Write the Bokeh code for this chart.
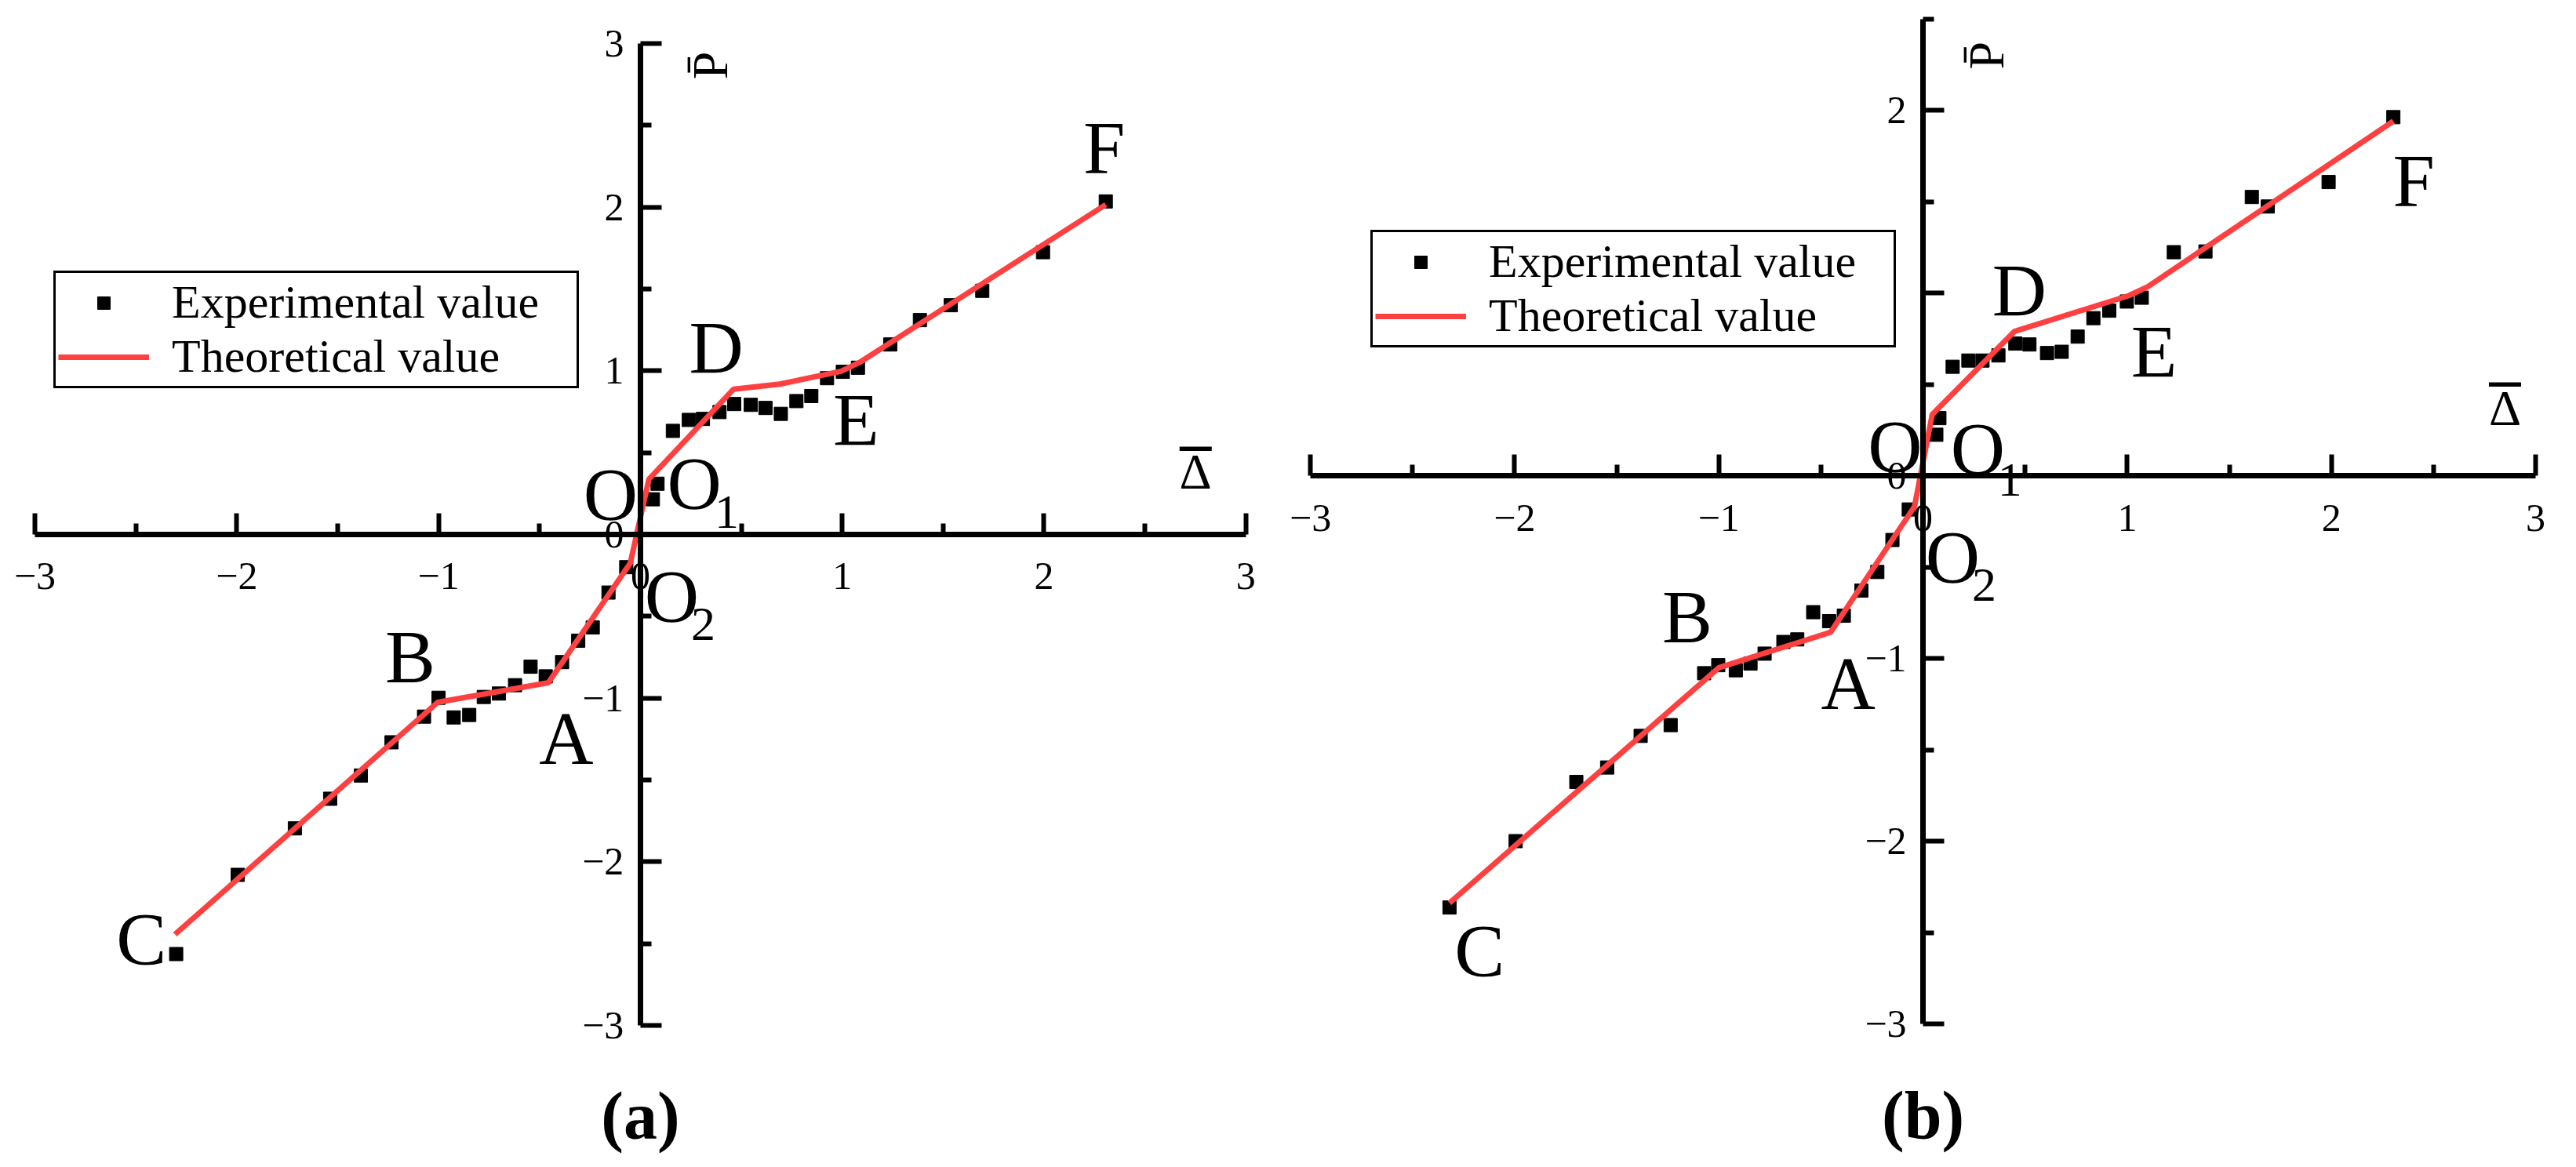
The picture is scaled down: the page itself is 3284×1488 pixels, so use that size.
import numpy as np
from bokeh.plotting import figure
from bokeh.models import LinearAxis, FixedTicker, Range1d, Legend, LegendItem
from bokeh.layouts import row
from bokeh.embed import file_html
from bokeh.resources import INLINE
from bokeh.core.properties import value

# ---------------- data ----------------
# panel (a)
a_exp_x = [-2.30, -1.995, -1.712, -1.537, -1.385, -1.233, -1.072, -1.0, -0.925, -0.848,
           -0.776, -0.701, -0.621, -0.544, -0.469, -0.388, -0.308, -0.236, -0.158, -0.07,
           0.062, 0.085, 0.161, 0.24, 0.31, 0.392, 0.465, 0.547, 0.62, 0.696,
           0.773, 0.847, 0.925, 1.003, 1.078, 1.238, 1.385, 1.538, 1.694, 1.995, 2.306]
a_exp_y = [-2.564, -2.08, -1.796, -1.615, -1.473, -1.27, -1.113, -0.998, -1.118, -1.103,
           -0.993, -0.972, -0.921, -0.808, -0.867, -0.78, -0.649, -0.568, -0.355, -0.2,
           0.215, 0.31, 0.633, 0.70, 0.706, 0.748, 0.797, 0.792, 0.773, 0.737,
           0.815, 0.846, 0.955, 0.994, 1.019, 1.161, 1.31, 1.401, 1.489, 1.725, 2.035]
a_theo_x = [-2.306, -1.005, -0.456, -0.05, 0.042, 0.462, 0.691, 0.995, 1.087, 2.306]
a_theo_y = [-2.444, -1.026, -0.906, -0.175, 0.337, 0.888, 0.919, 0.997, 1.052, 2.016]

# panel (b)
b_exp_x = [-2.319, -1.995, -1.698, -1.547, -1.383, -1.236, -1.072, -1.003, -0.917, -0.845,
           -0.776, -0.684, -0.616, -0.538, -0.46, -0.388, -0.302, -0.224, -0.15, -0.07,
           0.065, 0.08, 0.145, 0.222, 0.291, 0.369, 0.452, 0.521, 0.607, 0.679,
           0.757, 0.834, 0.912, 0.998, 1.071, 1.228, 1.383, 1.61, 1.688, 1.986, 2.303]
b_exp_y = [-2.363, -2.0, -1.676, -1.597, -1.424, -1.365, -1.081, -1.037, -1.065, -1.028,
           -0.974, -0.910, -0.896, -0.747, -0.796, -0.766, -0.629, -0.527, -0.352, -0.185,
           0.224, 0.315, 0.596, 0.63, 0.63, 0.658, 0.723, 0.718, 0.671, 0.678,
           0.761, 0.862, 0.903, 0.953, 0.974, 1.223, 1.227, 1.525, 1.473, 1.607, 1.962]
b_theo_x = [-2.319, -1.0, -0.453, -0.042, 0.045, 0.447, 1.007, 1.10, 2.303]
b_theo_y = [-2.338, -1.051, -0.857, -0.169, 0.335, 0.789, 0.985, 1.034, 1.94]

x_ticks = [-3, -2, -1, 0, 1, 2, 3]
x_minor = [-2.5, -1.5, -0.5, 0.5, 1.5, 2.5]
a_y_ticks = [-3, -2, -1, 0, 1, 2, 3]
a_y_minor = [-2.5, -1.5, -0.5, 0.5, 1.5, 2.5]
b_y_ticks = [-3, -2, -1, 0, 1, 2]
b_y_minor = [-2.5, -1.5, -0.5, 0.5, 1.5, 2.5]
b_y_hidden = [1]          # label hidden behind the legend in the original

series_names = ["Experimental value", "Theoretical value"]
x_title = "\u0394"
y_title = "P\u0304"
point_names = ["A", "B", "C", "D", "E", "F"]

# label placements (data coords) -- layout only
a_pt_lab_x = [-0.367, -1.14, -2.472, 0.376, 1.069, 2.298]
a_pt_lab_y = [-1.244, -0.749, -2.472, 1.141, 0.70, 2.364]
b_pt_lab_x = [-0.367, -1.155, -2.172, 0.472, 1.131, 2.403]
b_pt_lab_y = [-1.139, -0.772, -2.599, 1.013, 0.679, 1.615]

FONT = "Liberation Serif"
RED = "#FF4040"


def fmt(v):
    s = ("%g" % v)
    return s.replace("-", "\u2212")


def make_panel(W, xr, yr, y_ticks, y_minor, y_bounds, y_hidden, exp_x, exp_y, th_x, th_y,
               legend_loc, lab_x, lab_y, o_pos, o1_pos, s1_pos, o2_pos, s2_pos,
               dx_pos, py_pos, tag, tag_pos):
    p = figure(width=W, height=1472, x_range=Range1d(*xr), y_range=Range1d(*yr),
               output_backend="svg", toolbar_location=None,
               x_axis_location=None, y_axis_location=None, min_border=0,
               outline_line_color=None, background_fill_color="white",
               border_fill_color="white")
    p.xgrid.visible = False
    p.ygrid.visible = False

    common = dict(axis_line_width=7, axis_line_color="black",
                  major_tick_line_width=6, minor_tick_line_width=6,
                  major_tick_line_color="black", minor_tick_line_color="black",
                  major_tick_in=27, major_tick_out=0,
                  minor_tick_in=14, minor_tick_out=0,
                  major_label_text_font=FONT, major_label_text_font_size="50px",
                  major_label_text_color="black")
    xaxis = LinearAxis(fixed_location=0, bounds=(-3, 3),
                       ticker=FixedTicker(ticks=x_ticks, minor_ticks=x_minor),
                       major_label_overrides={float(t): fmt(t) for t in x_ticks},
                       major_label_standoff=37, **common)
    p.add_layout(xaxis, "below")
    y_over = {float(t): ("" if t in y_hidden else fmt(t)) for t in y_ticks}
    yaxis = LinearAxis(fixed_location=0, bounds=y_bounds,
                       ticker=FixedTicker(ticks=y_ticks, minor_ticks=y_minor),
                       major_label_overrides=y_over,
                       major_label_standoff=21, **common)
    p.add_layout(yaxis, "left")

    sc = p.scatter(exp_x, exp_y, marker="square", size=17, fill_color="black",
                   line_color="black")
    ln = p.line(th_x, th_y, line_color=RED, line_width=7)

    legend = Legend(items=[LegendItem(label=series_names[0], renderers=[sc]),
                           LegendItem(label=series_names[1], renderers=[ln])],
                    location=legend_loc, label_text_font=FONT,
                    label_text_font_size="60px", label_text_color="black",
                    glyph_width=116, glyph_height=40,
                    label_standoff=29, label_width=513, padding=3, spacing=0,
                    border_line_color="black", border_line_width=3,
                    border_line_alpha=1.0,
                    background_fill_color="white", background_fill_alpha=1.0,
                    margin=0)
    p.add_layout(legend)

    big = dict(text_font=value(FONT), text_align="center", text_baseline="middle",
               text_color="black")
    p.text(x=lab_x, y=lab_y, text=point_names, text_font_size="96px", **big)
    p.text(x=[o_pos[0], o1_pos[0], o2_pos[0]], y=[o_pos[1], o1_pos[1], o2_pos[1]],
           text=["O", "O", "O"], text_font_size="96px", **big)
    p.text(x=[s1_pos[0], s2_pos[0]], y=[s1_pos[1], s2_pos[1]], text=["1", "2"],
           text_font_size="62px", **big)
    # x-axis title: Delta with an overbar
    p.text(x=[dx_pos[0]], y=[dx_pos[1]], text=[x_title], text_font_size="64px", **big)
    p.text(x=[dx_pos[0]], y=[dx_pos[1]], text=["\u2013"], text_font_size="80px",
           text_font_style="bold", y_offset=-38, **big)
    # y-axis title: P with an overbar, rotated
    p.text(x=[py_pos[0]], y=[py_pos[1]], text=[y_title], text_font_size="64px",
           angle=np.pi / 2, **big)
    p.text(x=[tag_pos[0]], y=[tag_pos[1]], text=[tag], text_font_size="86px",
           text_font_style="bold", **big)
    return p


pa = make_panel(1640, (-3.171, 3.203), (-3.791, 3.2636), a_y_ticks, a_y_minor, (-3, 3), [],
                a_exp_x, a_exp_y, a_theo_x, a_theo_y, (68, 977),
                a_pt_lab_x, a_pt_lab_y, (-0.148, 0.244), (0.267, 0.313), (0.428, 0.138),
                (0.156, -0.379), (0.311, -0.551), (2.751, 0.383), (0.346, 2.866),
                "(a)", (0.0, -3.556))
pb = make_panel(1628, (-3.1157, 3.138), (-3.7167, 2.6009), b_y_ticks, b_y_minor, (-3, 2.5),
                b_y_hidden, b_exp_x, b_exp_y, b_theo_x, b_theo_y, (107, 1029),
                b_pt_lab_x, b_pt_lab_y, (-0.137, 0.16), (0.268, 0.146), (0.425, -0.023),
                (0.145, -0.445), (0.299, -0.60), (2.85, 0.37), (0.31, 2.30),
                "(b)", (0.0, -3.502))

layout = row(pa, pb)
open("out.html", "w").write(file_html(layout, INLINE))
